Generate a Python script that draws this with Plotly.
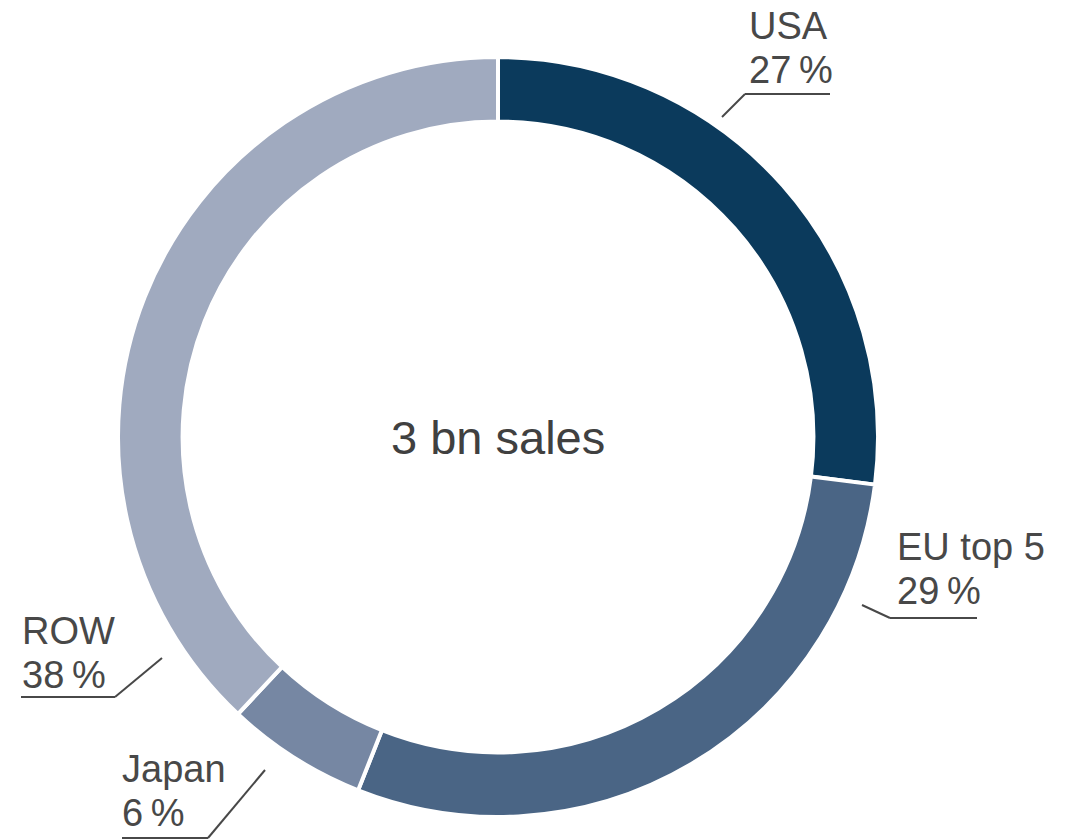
import plotly.graph_objects as go

# Sales split by region
regions = ["USA", "EU top 5", "Japan", "ROW"]
shares = [27, 29, 6, 38]
colors = ["#0b3a5c", "#4a6585", "#7687a3", "#a0aabf"]
center_text = "3 bn sales"

W, H = 1066, 839
CX, CY, R = 498, 437, 380   # ring centre and outer radius (px)
HOLE = 0.83

def px(x, y):
    """Convert pixel position (top-left origin) to paper coords."""
    return x / W, 1 - y / H

fig = go.Figure(go.Pie(
    labels=regions,
    values=shares,
    sort=False,
    direction="clockwise",
    rotation=0,
    hole=HOLE,
    marker=dict(colors=colors, line=dict(color="white", width=4)),
    textinfo="none",
    hovertemplate="%{label}: %{value} %<extra></extra>",
    showlegend=False,
    domain=dict(x=[(CX - R) / W, (CX + R) / W],
                y=[1 - (CY + R) / H, 1 - (CY - R) / H]),
))

label_color = "#484848"
FS = 38
font = dict(family="Liberation Sans, Arial, sans-serif", size=FS, color=label_color)
LINE_GAP = 44      # distance between the two label lines
TOP_PAD = 9        # annotation box top to cap height

# label block: text left / cap top, underline (x0, x1, y), leader end point
label_layout = {
    "USA":      dict(tx=747, ty=12,  ux=(745, 830), uy=94,  lead=(722, 117), side="left"),
    "EU top 5": dict(tx=895, ty=533, ux=(890, 977), uy=618, lead=(862, 605), side="left"),
    "ROW":      dict(tx=20,  ty=617, ux=(21, 115),  uy=697, lead=(162, 658), side="right"),
    "Japan":    dict(tx=120, ty=755, ux=(122, 208), uy=838, lead=(265, 770), side="right"),
}

annotations = []
shapes = []
for name, val in zip(regions, shares):
    L = label_layout[name]
    for i, line in enumerate([name, f"{val}\u2009%"]):
        x, y = px(L["tx"], L["ty"] - TOP_PAD + i * LINE_GAP)
        annotations.append(dict(
            x=x, y=y, xref="paper", yref="paper", xanchor="left", yanchor="top",
            text=line, showarrow=False, align="left", font=font,
        ))
    x0, x1 = L["ux"]
    uy = L["uy"]
    # underline
    a, b = px(x0, uy)
    c, d = px(x1, uy)
    shapes.append(dict(type="line", xref="paper", yref="paper", x0=a, y0=b, x1=c, y1=d,
                       line=dict(color=label_color, width=2)))
    # leader segment toward the ring
    sx = x0 if L["side"] == "left" else x1
    a, b = px(sx, uy)
    c, d = px(*L["lead"])
    shapes.append(dict(type="line", xref="paper", yref="paper", x0=a, y0=b, x1=c, y1=d,
                       line=dict(color=label_color, width=2)))

cx, cy = px(CX, CY)
annotations.append(dict(
    x=cx, y=cy, xref="paper", yref="paper", xanchor="center", yanchor="middle",
    text=center_text, showarrow=False,
    font=dict(family="Liberation Sans, Arial, sans-serif", size=47, color="#404040"),
))

fig.update_layout(
    width=W, height=H,
    margin=dict(l=0, r=0, t=0, b=0),
    paper_bgcolor="white",
    plot_bgcolor="white",
    annotations=annotations,
    shapes=shapes,
)

fig.write_html("out.html")
